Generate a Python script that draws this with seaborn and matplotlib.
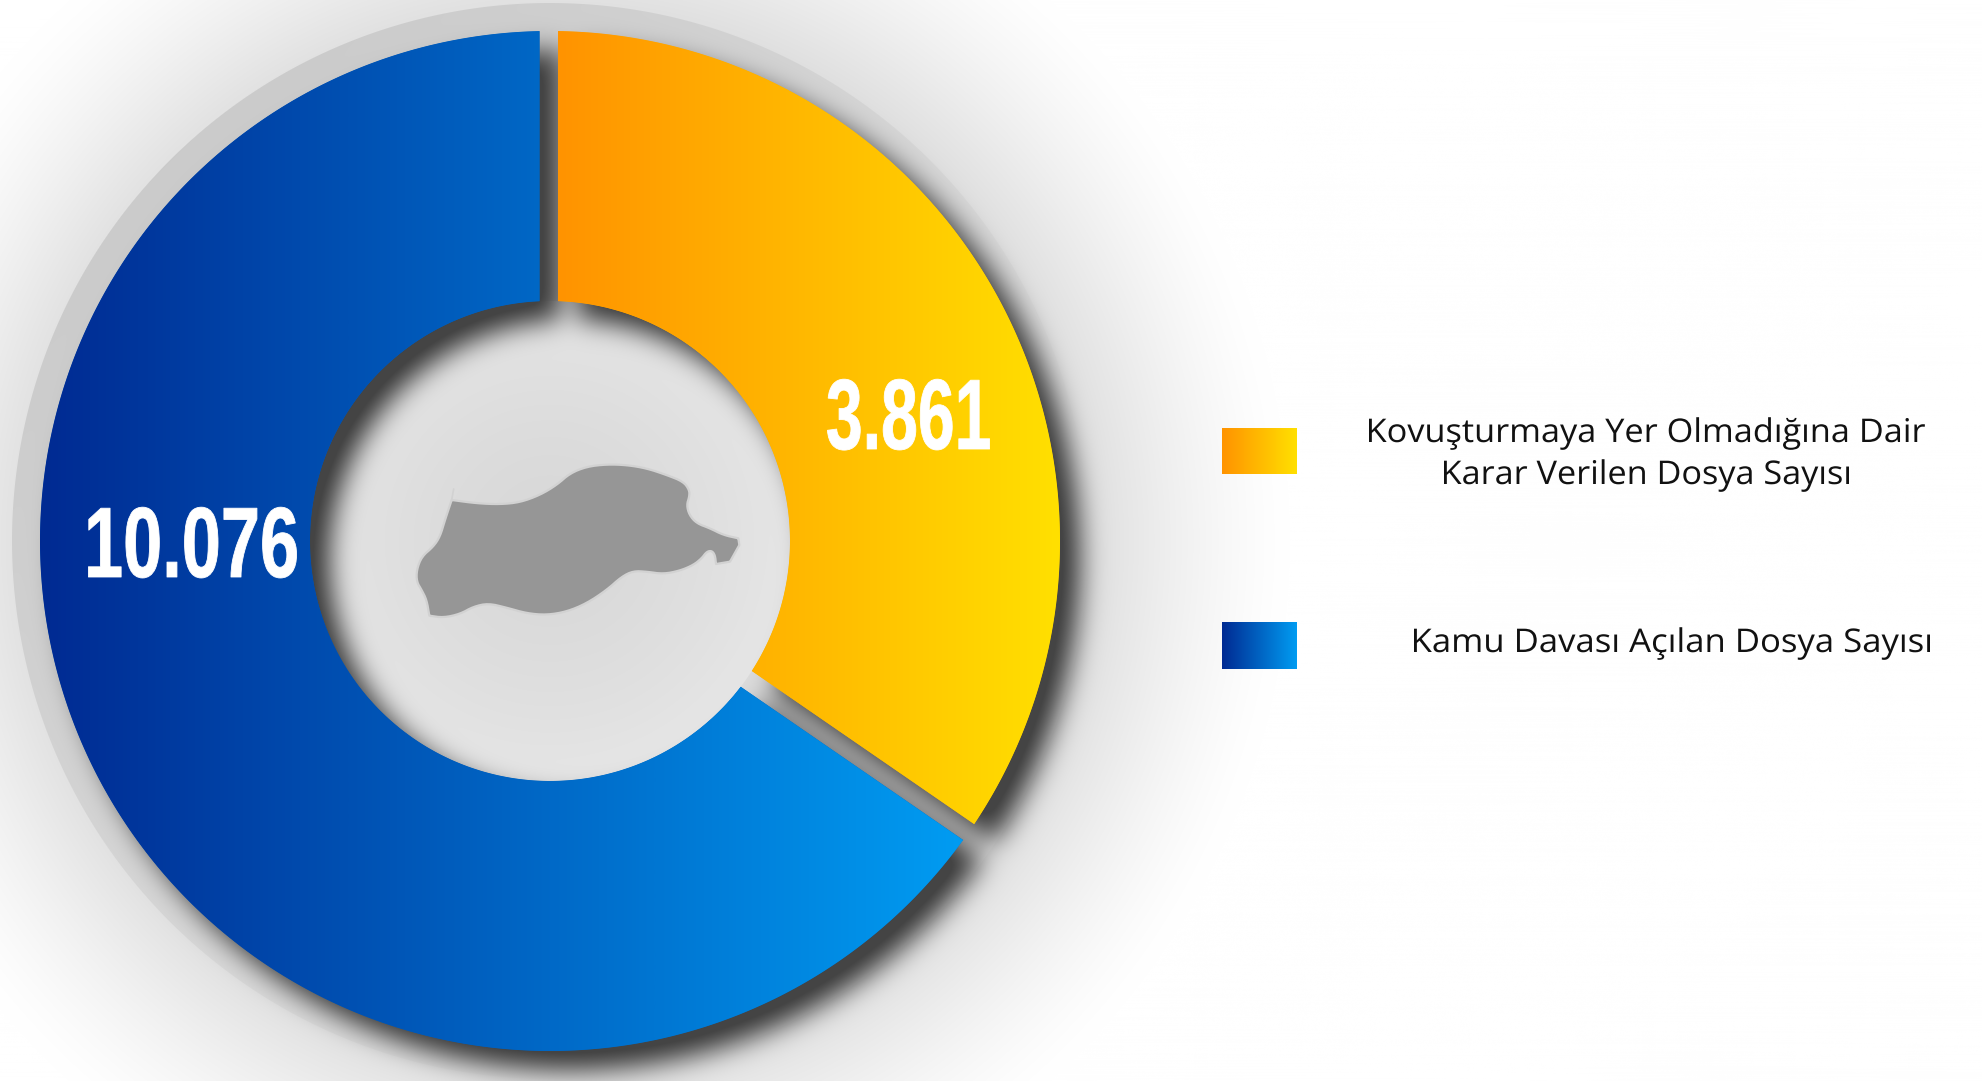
import numpy as np
import matplotlib
matplotlib.use("Agg")
import matplotlib.pyplot as plt
import matplotlib.patheffects as pe
from matplotlib.patches import Polygon
from matplotlib.transforms import Affine2D
import seaborn as sns

# ---- data ----
categories = ["Kovuşturmaya Yer Olmadığına Dair Karar Verilen Dosya Sayısı",
              "Kamu Davası Açılan Dosya Sayısı"]
value_labels = ["3.861", "10.076"]
drawn_share = [34.6, 65.4]          # slice sizes
legend_lines = [["Kovuşturmaya Yer Olmadığına Dair", "Karar Verilen Dosya Sayısı"],
                ["Kamu Davası Açılan Dosya Sayısı"]]
orange_stops = ["#ff9300", "#ffe000"]
blue_stops = ["#002a92", "#009cf2"]

W, H = 1982, 1081
CX, CY, R_OUT, R_IN = 550.0, 541.0, 510.0, 240.0
R_RIM = 538.0
GAP_TOP_L, GAP_TOP_R = 10.5, 8.0
GAP_LOW_O, GAP_LOW_B = 7.5, 11.9

sns.set_theme(style="white")
plt.rcParams["font.family"] = ["Open Sans", "DejaVu Sans"]
orange_cmap = sns.blend_palette(orange_stops, as_cmap=True)
blue_cmap = sns.blend_palette(blue_stops, as_cmap=True)

boundary_deg = 360.0 * drawn_share[0] / sum(drawn_share)


class FitWidth(pe.AbstractPathEffect):
    """Keep the text as text, but set its drawn width to that of the reference."""
    def __init__(self, left, width, stroke=0.0):
        super().__init__()
        self.left, self.width, self.stroke = left, width, stroke

    def draw_path(self, renderer, gc, tpath, affine, rgbFace=None):
        bb = tpath.get_extents(affine)
        sx = (self.width - self.stroke * 100 / 72) / bb.width
        t = affine + Affine2D().translate(-bb.x0, 0).scale(sx, 1).translate(
            self.left + self.stroke * 50 / 72, 0)
        g = renderer.new_gc()
        g.copy_properties(gc)
        g.set_linewidth(self.stroke)
        if self.stroke:
            g.set_foreground(rgbFace[:3] if rgbFace is not None else "white")
        g.set_joinstyle("round")
        renderer.draw_path(g, tpath, t, rgbFace)
        g.restore()


def blur(a, sigma):
    pad = int(4 * sigma)
    p = np.pad(a, pad, mode="edge")
    fy = np.fft.fftfreq(p.shape[0])[:, None]
    fx = np.fft.rfftfreq(p.shape[1])[None, :]
    k = np.exp(-2 * (np.pi * sigma) ** 2 * (fx ** 2 + fy ** 2))
    out = np.fft.irfft2(np.fft.rfft2(p) * k, s=p.shape)
    return out[pad:-pad, pad:-pad]


# ---- background and soft shadows ----
yy, xx = np.mgrid[0:H, 0:W] + 0.5
dx, dy = xx - CX, yy - CY
r = np.hypot(dx, dy)
th = np.radians(boundary_deg)
rad = np.array([np.sin(th), -np.cos(th)])     # image coords, clockwise from top
nrm = np.array([-rad[1], rad[0]])             # towards the blue slice
along = dx * rad[0] + dy * rad[1]
perp = dx * nrm[0] + dy * nrm[1]
gap = ((dy < 0) & (dx > -GAP_TOP_L) & (dx < GAP_TOP_R)) | \
      ((along > 0) & (perp > -GAP_LOW_O) & (perp < GAP_LOW_B))
ring = (r <= R_OUT) & (r >= R_IN) & ~gap

# glow behind the disc
gr = np.hypot(xx - 560, yy - 541)
glow = 255 - 30 * np.clip((730 - gr) / 190, 0, None) ** 1.35
bg = np.clip(glow, 190, 255)

# rim disc
t = np.clip(((dx + dy) / (R_RIM * 1.41) + 1) / 2, 0, 1)
rim = 203 + 24 * t
rim_a = np.clip(R_RIM + 0.5 - r, 0, 1)
bg = bg * (1 - rim_a) + rim * rim_a

# hole
hole = 216 + 14 * np.clip(r / R_IN, 0, 1) ** 1.5
hole_a = np.clip(R_IN + 0.5 - r, 0, 1)
bg = bg * (1 - hole_a) + hole * hole_a

# drop shadow of the ring, thrown to the lower right
shadow = blur(np.roll(np.roll(ring.astype(float), 20, axis=1), 19, axis=0), 13.0)
shadow = np.clip(shadow * 1.1, 0, 1)
bg = bg * (1 - shadow) + 68 * shadow
rgb = np.clip(np.dstack([bg, bg, bg]) / 255.0, 0, 1)

# ---- figure ----
fig = plt.figure(figsize=(W / 100, H / 100), dpi=100)
ax = fig.add_axes([0, 0, 1, 1])
ax.imshow(rgb, extent=(0, W, 0, H), origin="upper", zorder=0, interpolation="nearest")

cy_up = H - CY
wedges, _ = ax.pie(drawn_share, startangle=90, counterclock=False,
                   radius=R_OUT, center=(CX, cy_up), frame=True,
                   colors=[orange_cmap(0.5), blue_cmap(0.5)],
                   wedgeprops=dict(width=R_OUT - R_IN, linewidth=0, zorder=1))


def sector(a0_deg, d0, a1_deg, d1):
    """Ring sector (clockwise from top) whose straight edges run parallel to its radii."""
    pts = []
    for rr, flip in ((R_OUT, False), (R_IN, True)):
        a = np.linspace(a0_deg + np.degrees(np.arcsin(d0 / rr)),
                        a1_deg - np.degrees(np.arcsin(d1 / rr)), 360)
        if flip:
            a = a[::-1]
        pts.append(np.c_[CX + rr * np.sin(np.radians(a)),
                         cy_up + rr * np.cos(np.radians(a))])
    return np.vstack(pts)


shapes = [sector(0, GAP_TOP_R, boundary_deg, GAP_LOW_O),
          sector(boundary_deg, GAP_LOW_B, 360, GAP_TOP_L)]
grad = np.linspace(0, 1, 512).reshape(1, -1)
for w, pts, cmap in zip(wedges, shapes, (orange_cmap, blue_cmap)):
    clip = Polygon(pts, closed=True, transform=ax.transData)
    w.set_clip_on(True)
    w.set_clip_path(clip)
    im = ax.imshow(grad, cmap=cmap, aspect="auto", zorder=2, interpolation="bilinear",
                   extent=(pts[:, 0].min(), pts[:, 0].max(), pts[:, 1].min(), pts[:, 1].max()))
    im.set_clip_path(clip)

# ---- silhouette in the hole ----
sil = np.array([
    (155, 180), (155, 180), (155, 180), (230, 190), (300, 193), (360, 187), (420, 165), (470, 135),
    (510, 100), (560, 80), (620, 73), (680, 75), (740, 85), (800, 105), (850, 125), (868, 150),
    (868, 170), (860, 195), (868, 225), (890, 250), (930, 265), (970, 285), (1015, 295), (1015, 295),
    (1018, 315), (1018, 315), (990, 365), (990, 365), (948, 372), (948, 372), (945, 345), (935, 332),
    (920, 335), (905, 355), (880, 375), (840, 392), (790, 402), (740, 395), (700, 393), (665, 410),
    (620, 450), (560, 490), (500, 515), (440, 525), (380, 520), (320, 503), (265, 490), (220, 500),
    (180, 522), (130, 533), (88, 527), (88, 527), (80, 480), (65, 450), (50, 425), (50, 390),
    (65, 350), (100, 320), (120, 290), (135, 240)], dtype=float)
for _ in range(2):
    nxt = np.roll(sil, -1, axis=0)
    sil = np.vstack([0.75 * sil + 0.25 * nxt, 0.25 * sil + 0.75 * nxt])[
        np.argsort(np.r_[np.arange(len(sil)) * 2, np.arange(len(sil)) * 2 + 1])]
sil_xy = np.c_[400 + sil[:, 0] / 3, H - (440 + sil[:, 1] / 3)]
ax.add_patch(Polygon(sil_xy, closed=True, facecolor="#969696", edgecolor="#d2d2d2",
                     linewidth=1.6, joinstyle="round", zorder=3))
ax.plot([400 + 155 / 3, 400 + 161 / 3], [H - (440 + 180 / 3), H - (440 + 147 / 3)],
        color="#d2d2d2", linewidth=1.2, zorder=3)

# ---- value labels ----
num_font = ["Liberation Sans Narrow", "Liberation Sans", "DejaVu Sans"]
for s, (left, right, base) in zip(value_labels, [(827, 990, 449), (88, 297, 577)]):
    ax.text((left + right) / 2, H - base, s, color="white", fontsize=72, fontweight="bold",
            family=num_font, ha="center", va="baseline", zorder=5,
            path_effects=[FitWidth(left, right - left, stroke=0.6)])

# ---- legend ----
for (x0, y0, x1, y1), cmap in zip([(1222, 428, 1297, 474), (1222, 622, 1297, 669)],
                                  (orange_cmap, blue_cmap)):
    ax.imshow(grad, cmap=cmap, aspect="auto", zorder=4, interpolation="bilinear",
              extent=(x0, x1, H - y1, H - y0))

line_boxes = [[(1369, 1925, 442), (1444, 1849, 484)], [(1414, 1930, 652)]]
for lines, boxes in zip(legend_lines, line_boxes):
    for s, (left, right, base) in zip(lines, boxes):
        ax.text((left + right) / 2, H - base, s, color="#111111", fontsize=23.5,
                ha="center", va="baseline", zorder=5,
                path_effects=[FitWidth(left, right - left)])

ax.set_xlim(0, W)
ax.set_ylim(0, H)
ax.set_aspect("auto")
ax.axis("off")
fig.savefig("out.png", dpi=100, facecolor="white")
